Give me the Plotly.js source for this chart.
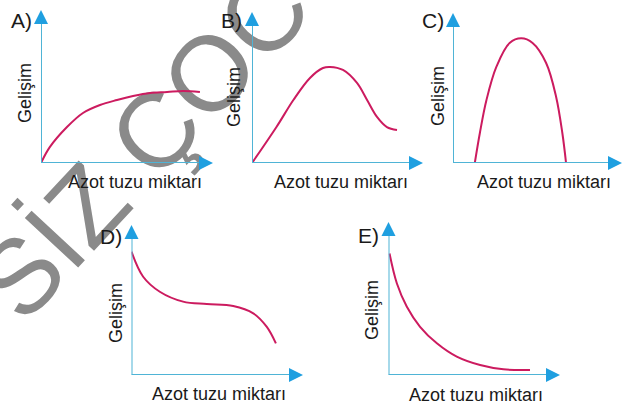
<!DOCTYPE html>
<html>
<head>
<meta charset="utf-8">
<script src="https://cdn.plot.ly/plotly-3.0.1.min.js"></script>
<style>html,body{margin:0;padding:0;background:#fff;}#chart{width:625px;height:405px;}</style>
</head>
<body>
<div id="chart"></div>
<script>
// ---- data (units: 0..10 along each axis, 10 = arrow tip) ----
const panelLetters = ['A)', 'B)', 'C)', 'D)', 'E)'];
const yTitle = 'Gelişim';
const xTitle = 'Azot tuzu miktarı';
const watermarkText = 'SİZ ÇOC';

const aX = [0, 0.52, 1.51, 2.44, 3.43, 4.42, 5.35, 6.34, 7.33, 8.26, 9.24];
const aY = [0, 1.05, 2.35, 3.27, 3.79, 4.12, 4.38, 4.58, 4.64, 4.71, 4.64];

const bX = [0, 1.44, 2.42, 3.39, 4.15, 4.56, 5.32, 6.14, 6.73, 7.31, 7.89, 8.48];
const bY = [0, 2.40, 4.17, 5.63, 6.29, 6.36, 6.16, 5.30, 4.17, 3.05, 2.38, 2.19];

const cX = [1.29, 1.59, 1.98, 2.57, 3.35, 4.04, 4.71, 5.51, 6.10, 6.47, 6.69];
const cY = [0, 2.0, 4.2, 6.42, 8.0, 8.31, 8.0, 6.67, 4.42, 2.0, 0];

const dX = [0, 0.68, 1.65, 3.01, 4.39, 5.93, 7.10, 7.88, 8.42];
const dY = [8.22, 6.55, 5.55, 4.89, 4.73, 4.60, 4.11, 3.22, 2.11];

const eX = [0.06, 0.49, 1.07, 1.84, 2.82, 3.98, 5.34, 6.70, 8.25];
const eY = [7.94, 5.98, 4.46, 3.15, 2.07, 1.20, 0.65, 0.37, 0.33];

const seriesX = [aX, bX, cX, dX, eX];
const seriesY = [aY, bY, cY, dY, eY];

// ---- layout geometry (pixels) ----
const W = 625, H = 405;
const X = px => px / W;
const Y = py => 1 - py / H;

const boxes = [
  {ox: 41,    oy: 163, tx: 213, ty: 10,  let: [21, 21],  gel: [25, 93],  azot: [135, 182]},
  {ox: 252,   oy: 163, tx: 423, ty: 12,  let: [232, 21], gel: [234, 97], azot: [341, 182]},
  {ox: 453,   oy: 163, tx: 622, ty: 13,  let: [433, 21], gel: [438, 96], azot: [544, 182]},
  {ox: 131.5, oy: 375, tx: 303, ty: 225, let: [111, 237], gel: [116, 313], azot: [219, 394]},
  {ox: 388.5, oy: 375, tx: 560, ty: 222, let: [368, 235], gel: [372, 310], azot: [476, 395]}
];

const curveColor = '#cc1b5f';
const axisLineColor = '#4fb4d6';
const arrowColor = '#1f9fe0';
const textColor = '#1a1a1a';
const fontFam = 'Liberation Sans, Arial, sans-serif';

const traces = [];
const layout = {
  width: W, height: H,
  margin: {l: 0, r: 0, t: 0, b: 0, pad: 0},
  paper_bgcolor: '#ffffff',
  plot_bgcolor: 'rgba(0,0,0,0)',
  showlegend: false,
  annotations: [],
  shapes: []
};

// watermark (drawn below the curves)
layout.shapes.push({
  type: 'line', xref: 'paper', yref: 'paper', layer: 'below',
  x0: X(35.6), y0: Y(244.2), x1: X(235.6), y1: Y(30.2),
  line: {width: 0, color: 'rgba(0,0,0,0)'},
  label: {
    text: watermarkText, textangle: -47, textposition: 'middle',
    xanchor: 'center', yanchor: 'middle',
    font: {family: fontFam, size: 106, color: '#8a8a8a'}
  }
});

boxes.forEach((b, i) => {
  const n = i === 0 ? '' : String(i + 1);
  const xa = 'x' + n, ya = 'y' + n;
  traces.push({
    type: 'scatter', mode: 'lines',
    x: seriesX[i], y: seriesY[i],
    xaxis: xa, yaxis: ya,
    line: {color: curveColor, width: 2, shape: 'spline', smoothing: 1},
    hoverinfo: 'skip'
  });
  const axCommon = {range: [0, 10], visible: false, fixedrange: true, showgrid: false, zeroline: false};
  layout['xaxis' + n] = Object.assign({}, axCommon, {domain: [X(b.ox), X(b.tx)], anchor: ya});
  layout['yaxis' + n] = Object.assign({}, axCommon, {domain: [Y(b.oy), Y(b.ty)], anchor: xa});

  // axis lines
  layout.shapes.push({type: 'line', xref: xa, yref: ya, x0: 0, y0: 0, x1: 9.6, y1: 0,
    line: {color: axisLineColor, width: 2}, layer: 'above'});
  layout.shapes.push({type: 'line', xref: xa, yref: ya, x0: 0, y0: 0, x1: 0, y1: 9.5,
    line: {color: axisLineColor, width: 2}, layer: 'above'});

  // arrow heads
  const arrow = {
    xref: xa, yref: ya, axref: xa, ayref: ya,
    text: '', showarrow: true,
    arrowhead: 2, arrowsize: 1.4, arrowwidth: 2, arrowcolor: arrowColor, standoff: 0
  };
  layout.annotations.push(Object.assign({}, arrow, {x: 10, y: 0, ax: 9.2, ay: 0}));
  layout.annotations.push(Object.assign({}, arrow, {x: 0, y: 10, ax: 0, ay: 9.1}));

  // texts
  layout.annotations.push({
    xref: 'paper', yref: 'paper', x: X(b.let[0]), y: Y(b.let[1]),
    xanchor: 'center', yanchor: 'middle', showarrow: false,
    text: panelLetters[i], font: {family: fontFam, size: 21, color: textColor}
  });
  layout.annotations.push({
    xref: 'paper', yref: 'paper', x: X(b.gel[0]), y: Y(b.gel[1]),
    xanchor: 'center', yanchor: 'middle', showarrow: false, textangle: -90,
    text: yTitle, font: {family: fontFam, size: 18, color: textColor}
  });
  layout.annotations.push({
    xref: 'paper', yref: 'paper', x: X(b.azot[0]), y: Y(b.azot[1]),
    xanchor: 'center', yanchor: 'middle', showarrow: false,
    text: xTitle, font: {family: fontFam, size: 18, color: textColor}
  });
});

Plotly.newPlot('chart', traces, layout, {displayModeBar: false, staticPlot: true});
</script>
</body>
</html>
